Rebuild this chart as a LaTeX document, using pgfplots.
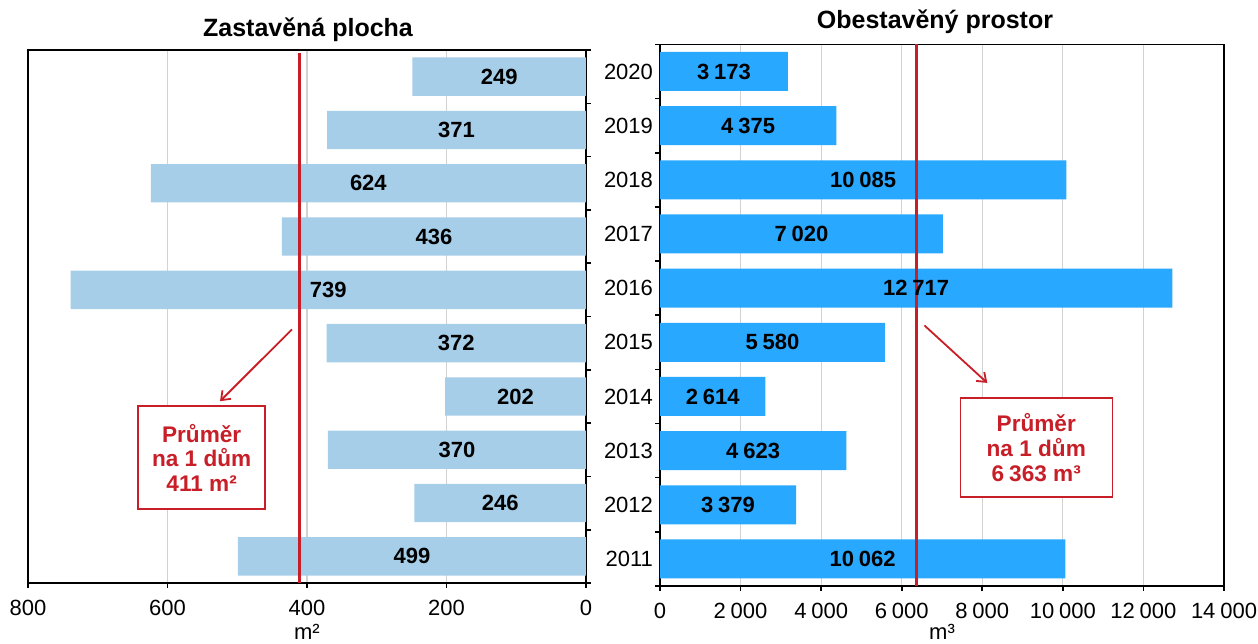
\documentclass[border=0pt]{standalone}
\usepackage{fontspec}
\setmainfont{Liberation Sans}
\usepackage{pgfplots}
\pgfplotsset{compat=1.18}
\usetikzlibrary{arrows.meta}
\definecolor{lblue}{RGB}{166,206,232}
\definecolor{dblue}{RGB}{41,168,255}
\definecolor{myred}{RGB}{200,30,40}
\definecolor{gridgray}{RGB}{210,210,210}
\tikzset{
  note/.style={draw=myred, line width=0.75pt, fill=white, text=myred, align=center,
    font=\bfseries\fontsize{11.3}{12.4}\selectfont, inner sep=2pt},
  arr/.style={myred, line width=0.9pt, -{Straight Barb[length=4pt,width=6pt]}},
}
\begin{document}
\begin{tikzpicture}
\useasboundingbox (0,0) rectangle (629pt,321.5pt);
\pgfplotsset{
  common/.style={
    scale only axis,
    anchor=south west,
    ymin=2010.5, ymax=2020.5,
    ytick={2010.5,2011.5,...,2020.5},
    yticklabels={},
    tick align=outside,
    major tick length=2.5pt,
    xtick pos=left,
    xmajorgrids,
    grid style={gridgray, line width=0.6pt},
    axis line style={line width=0.8pt},
    tick style={black, line width=0.8pt},
    tick label style={font=\fontsize{11}{13}\selectfont},
    xticklabel style={yshift=-2.5pt},
    /pgf/number format/assume math mode=true,
    label style={font=\fontsize{11}{13}\selectfont},
    xlabel style={yshift=2.5pt},
  },
  bars/.style={
    xbar, bar shift=0pt, bar width=0.72, fill=#1, draw=none,
    point meta=x,
    visualization depends on=rawx\as\rawx,
    nodes near coords,
    nodes near coords style={anchor=center, black, font=\bfseries\fontsize{11}{13}\selectfont,
      shift={(axis direction cs:-\rawx/2,0)}},
  },
  avg/.style={myred, line width=1.5pt, no marks},
}
% left axis
\begin{axis}[common,
  at={(14pt,30pt)}, width=279pt, height=266.5pt,
  x dir=reverse, xmin=0, xmax=800, xtick={0,200,...,800},
  ytick pos=right,
  xlabel={m²},
]
\addplot[bars=lblue] coordinates {
(499,2011) (246,2012) (370,2013) (202,2014) (372,2015)
(739,2016) (436,2017) (624,2018) (371,2019) (249,2020)};
\addplot[avg] coordinates {(411,2010.5) (411,2020.45)};
\draw[arr] (axis cs:421.5,2015.26) -- (axis cs:524.7,2013.91);
\node[note, minimum width=63.5pt, minimum height=51.5pt] at (axis cs:551,2012.85)
  {Průměr\\ na 1 dům\\411 m²};
\end{axis}
% right axis
\begin{axis}[common,
  at={(330pt,28.5pt)}, width=282pt, height=270.8pt,
  xmin=0, xmax=14000, xtick={0,2000,...,14000},
  scaled x ticks=false,
  /pgf/number format/1000 sep={\hspace{0.22em}},
  ytick pos=left,
  extra y ticks={2011,2012,2013,2014,2015,2016,2017,2018,2019,2020},
  extra y tick labels={2011,2012,2013,2014,2015,2016,2017,2018,2019,2020},
  extra y tick style={major tick length=0pt},
  xlabel={m³},
  xlabel style={yshift=1.5pt},
]
\addplot[bars=dblue] coordinates {
(10062,2011) (3379,2012) (4623,2013) (2614,2014) (5580,2015)
(12717,2016) (7020,2017) (10085,2018) (4375,2019) (3173,2020)};
\addplot[avg] coordinates {(6363,2010.5) (6363,2020.5)};
\draw[arr] (axis cs:6565,2015.31) -- (axis cs:8123,2014.25);
\node[note, minimum width=76pt, minimum height=49.5pt] at (axis cs:9340,2013.06)
  {Průměr\\na 1 dům\\6\hspace{0.22em}363 m³};
\end{axis}
\node[font=\bfseries\fontsize{12.5}{15}\selectfont] at (154pt,306.5pt) {Zastavěná plocha};
\node[font=\bfseries\fontsize{12.5}{15}\selectfont] at (467.5pt,310.5pt) {Obestavěný prostor};
\end{tikzpicture}
\end{document}
